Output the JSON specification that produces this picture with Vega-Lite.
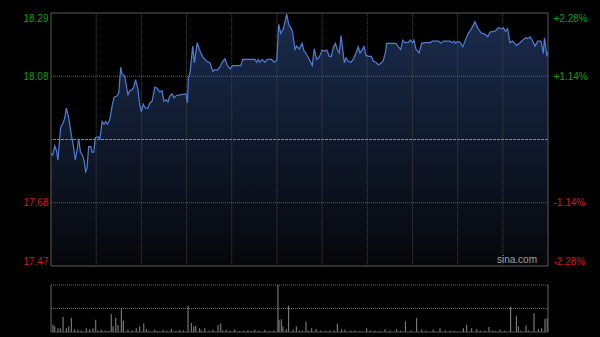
{
 "$schema": "https://vega.github.io/schema/vega-lite/v6.json",
 "width": 497,
 "height": 319,
 "autosize": {"type": "none"},
 "padding": {"left": 51, "top": 13, "right": 52, "bottom": 5},
 "background": "#000000",
 "config": {"view": {"stroke": null}},
 "datasets": {
  "price": [
   {"t":0,"p":17.835},{"t":1.1,"p":17.830},{"t":2.5,"p":17.860},{"t":3.8,"p":17.840},{"t":4.6,"p":17.814},{"t":6.4,"p":17.918},{"t":8.0,"p":17.933},{"t":9.1,"p":17.949},{"t":10.2,"p":17.981},{"t":11.8,"p":17.949},{"t":13.5,"p":17.895},{"t":14.8,"p":17.862},{"t":16.1,"p":17.814},{"t":17.5,"p":17.851},{"t":18.4,"p":17.882},{"t":19.5,"p":17.840},{"t":20.8,"p":17.830},{"t":21.9,"p":17.814},{"t":23.0,"p":17.776},{"t":23.9,"p":17.787},{"t":25.0,"p":17.857},{"t":26.4,"p":17.857},{"t":27.2,"p":17.839},{"t":28.4,"p":17.839},{"t":29.4,"p":17.886},{"t":31.2,"p":17.889},{"t":32.5,"p":17.882},{"t":33.9,"p":17.938},{"t":35.2,"p":17.929},{"t":36.3,"p":17.938},{"t":37.4,"p":17.929},{"t":39.0,"p":17.943},{"t":40.5,"p":17.986},{"t":41.8,"p":18.016},{"t":43.6,"p":18.019},{"t":45.0,"p":18.030},{"t":46.3,"p":18.113},{"t":47.1,"p":18.091},{"t":48.9,"p":18.084},{"t":50.3,"p":18.046},{"t":51.1,"p":18.024},{"t":52.3,"p":18.037},{"t":53.8,"p":18.040},{"t":55.1,"p":18.051},{"t":56.2,"p":18.073},{"t":57.8,"p":18.040},{"t":58.9,"p":17.992},{"t":60.0,"p":17.970},{"t":61.3,"p":17.994},{"t":62.6,"p":17.981},{"t":64.4,"p":17.981},{"t":65.5,"p":17.997},{"t":67.1,"p":18.003},{"t":68.9,"p":18.048},{"t":70.4,"p":18.046},{"t":72.2,"p":18.033},{"t":73.7,"p":18.037},{"t":75.0,"p":18.003},{"t":76.6,"p":18.008},{"t":77.7,"p":18.001},{"t":78.8,"p":18.019},{"t":80.3,"p":18.027},{"t":81.7,"p":18.014},{"t":83.2,"p":18.022},{"t":85.6,"p":18.024},{"t":89.6,"p":18.027},{"t":90.6,"p":17.998},{"t":91.2,"p":18.078},{"t":92.3,"p":18.095},{"t":94.1,"p":18.181},{"t":95.2,"p":18.127},{"t":97.1,"p":18.192},{"t":98.9,"p":18.165},{"t":101.1,"p":18.143},{"t":103.4,"p":18.132},{"t":105.6,"p":18.127},{"t":107.4,"p":18.100},{"t":108.9,"p":18.105},{"t":110.4,"p":18.103},{"t":112.2,"p":18.114},{"t":113.5,"p":18.127},{"t":115.5,"p":18.140},{"t":117.1,"p":18.118},{"t":118.9,"p":18.108},{"t":120.6,"p":18.118},{"t":123.3,"p":18.118},{"t":126.0,"p":18.118},{"t":127.3,"p":18.138},{"t":131.0,"p":18.138},{"t":135.5,"p":18.138},{"t":136.6,"p":18.129},{"t":137.6,"p":18.138},{"t":138.8,"p":18.129},{"t":140.1,"p":18.138},{"t":142.1,"p":18.129},{"t":143.6,"p":18.138},{"t":146.5,"p":18.138},{"t":148.1,"p":18.129},{"t":149.9,"p":18.135},{"t":151.2,"p":18.251},{"t":152.5,"p":18.222},{"t":154.2,"p":18.235},{"t":156.5,"p":18.284},{"t":157.8,"p":18.251},{"t":159.8,"p":18.235},{"t":160.5,"p":18.224},{"t":162.0,"p":18.170},{"t":163.1,"p":18.181},{"t":164.9,"p":18.172},{"t":166.7,"p":18.190},{"t":168.0,"p":18.165},{"t":169.8,"p":18.154},{"t":171.5,"p":18.138},{"t":173.5,"p":18.118},{"t":174.8,"p":18.172},{"t":176.4,"p":18.138},{"t":178.2,"p":18.146},{"t":179.9,"p":18.168},{"t":181.7,"p":18.165},{"t":183.1,"p":18.168},{"t":184.8,"p":18.148},{"t":186.1,"p":18.148},{"t":187.4,"p":18.176},{"t":188.8,"p":18.190},{"t":190.1,"p":18.170},{"t":191.4,"p":18.159},{"t":192.6,"p":18.215},{"t":193.7,"p":18.170},{"t":194.8,"p":18.127},{"t":195.9,"p":18.143},{"t":197.4,"p":18.132},{"t":199.2,"p":18.129},{"t":200.7,"p":18.138},{"t":202.5,"p":18.159},{"t":204.0,"p":18.179},{"t":205.2,"p":18.159},{"t":206.5,"p":18.168},{"t":207.8,"p":18.179},{"t":209.2,"p":18.151},{"t":211.0,"p":18.148},{"t":212.7,"p":18.148},{"t":214.0,"p":18.132},{"t":215.8,"p":18.129},{"t":217.3,"p":18.121},{"t":218.9,"p":18.125},{"t":220.6,"p":18.135},{"t":222.0,"p":18.159},{"t":222.9,"p":18.190},{"t":225.1,"p":18.190},{"t":229.1,"p":18.190},{"t":230.6,"p":18.179},{"t":232.2,"p":18.170},{"t":233.5,"p":18.200},{"t":235.1,"p":18.192},{"t":237.3,"p":18.194},{"t":238.8,"p":18.200},{"t":240.2,"p":18.192},{"t":241.0,"p":18.200},{"t":242.4,"p":18.170},{"t":244.4,"p":18.159},{"t":246.1,"p":18.190},{"t":248.3,"p":18.192},{"t":251.7,"p":18.192},{"t":253.2,"p":18.197},{"t":257.2,"p":18.197},{"t":259.0,"p":18.190},{"t":260.5,"p":18.197},{"t":264.9,"p":18.197},{"t":266.5,"p":18.192},{"t":267.8,"p":18.197},{"t":268.7,"p":18.190},{"t":270.1,"p":18.197},{"t":271.8,"p":18.192},{"t":273.4,"p":18.179},{"t":274.9,"p":18.197},{"t":276.7,"p":18.219},{"t":278.9,"p":18.235},{"t":281.5,"p":18.259},{"t":283.3,"p":18.240},{"t":285.5,"p":18.224},{"t":288.2,"p":18.219},{"t":290.0,"p":18.211},{"t":291.5,"p":18.226},{"t":294.8,"p":18.229},{"t":297.0,"p":18.240},{"t":298.8,"p":18.237},{"t":300.3,"p":18.240},{"t":301.9,"p":18.229},{"t":303.2,"p":18.237},{"t":304.8,"p":18.192},{"t":306.3,"p":18.197},{"t":309.2,"p":18.183},{"t":311.4,"p":18.192},{"t":313.6,"p":18.202},{"t":315.2,"p":18.208},{"t":316.5,"p":18.205},{"t":318.1,"p":18.211},{"t":319.6,"p":18.200},{"t":321.4,"p":18.181},{"t":323.2,"p":18.197},{"t":325.3,"p":18.197},{"t":326.2,"p":18.176},{"t":326.9,"p":18.157},{"t":327.6,"p":18.208},{"t":328.7,"p":18.170},{"t":329.3,"p":18.148},{"t":329.8,"p":18.161}
  ],
  "vol": [
   {"t":1.3,"v":15.5},{"t":2.5,"v":12},{"t":4.6,"v":8},{"t":6.2,"v":8},{"t":8.0,"v":32},{"t":10.2,"v":8},{"t":11.8,"v":12},{"t":13.5,"v":30},{"t":15.7,"v":6},{"t":17.9,"v":5},{"t":20,"v":3},{"t":23.4,"v":8},{"t":25.7,"v":6},{"t":27.9,"v":8},{"t":29.7,"v":26},{"t":31,"v":3},{"t":33.4,"v":5},{"t":36,"v":3},{"t":38,"v":2},{"t":40.0,"v":38},{"t":41.2,"v":12},{"t":43.0,"v":30},{"t":44.5,"v":15},{"t":46.7,"v":51},{"t":48.0,"v":24},{"t":51.1,"v":5},{"t":54,"v":3},{"t":56.6,"v":8},{"t":58.9,"v":12},{"t":61.6,"v":18},{"t":63.3,"v":6},{"t":65,"v":3},{"t":68.9,"v":5},{"t":71,"v":2},{"t":74.4,"v":5},{"t":77,"v":3},{"t":79.9,"v":6},{"t":83,"v":2},{"t":85.5,"v":4},{"t":88,"v":3},{"t":91.0,"v":56},{"t":93.2,"v":19},{"t":94.8,"v":12},{"t":96.1,"v":13},{"t":98.7,"v":8},{"t":100,"v":3},{"t":102.1,"v":8},{"t":105,"v":3},{"t":107.6,"v":5},{"t":110.9,"v":15},{"t":112.7,"v":18},{"t":114,"v":3},{"t":116.4,"v":5},{"t":119,"v":3},{"t":122.0,"v":6},{"t":125,"v":2},{"t":128,"v":3},{"t":130.8,"v":4},{"t":133,"v":2},{"t":135.3,"v":5},{"t":138,"v":3},{"t":141.9,"v":4},{"t":145,"v":2},{"t":148,"v":3},{"t":150.7,"v":100},{"t":151.4,"v":26},{"t":152.9,"v":27},{"t":154.0,"v":12},{"t":156.2,"v":6},{"t":157.8,"v":56},{"t":160.7,"v":5},{"t":162.9,"v":12},{"t":165,"v":3},{"t":167,"v":3},{"t":169.3,"v":22.5},{"t":171,"v":3},{"t":173.1,"v":8},{"t":176.0,"v":6},{"t":179,"v":3},{"t":182,"v":2},{"t":185,"v":3},{"t":188,"v":3},{"t":190.1,"v":17.6},{"t":193.0,"v":6},{"t":195.2,"v":5},{"t":199,"v":3},{"t":202,"v":3},{"t":205,"v":2},{"t":209.6,"v":8},{"t":212,"v":3},{"t":215,"v":3},{"t":218,"v":2},{"t":221.8,"v":6},{"t":225,"v":3},{"t":229.5,"v":6},{"t":232,"v":3},{"t":235.3,"v":22.5},{"t":239,"v":3},{"t":242.8,"v":29.6},{"t":246.1,"v":5},{"t":249,"v":3},{"t":253.8,"v":5},{"t":258.3,"v":8},{"t":262,"v":3},{"t":265,"v":3},{"t":268,"v":2},{"t":273.8,"v":8},{"t":276.0,"v":15.5},{"t":279.3,"v":8},{"t":282.7,"v":6},{"t":285,"v":3},{"t":288,"v":3},{"t":290.8,"v":10.6},{"t":293,"v":3},{"t":295,"v":2},{"t":298.1,"v":5},{"t":301,"v":3},{"t":305.2,"v":54},{"t":309.0,"v":34.5},{"t":310.3,"v":12},{"t":312,"v":3},{"t":315.4,"v":14},{"t":317,"v":3},{"t":320.7,"v":40},{"t":323.6,"v":6},{"t":325.8,"v":8},{"t":328.0,"v":28},{"t":329.5,"v":29.6}
  ],
  "vgrid": [{"t":30},{"t":60},{"t":90},{"t":120},{"t":150},{"t":180},{"t":210},{"t":240},{"t":270},{"t":300}],
  "hgrid": [{"p":17.6762},{"p":18.0838}],
  "vedge": [{"t":0},{"t":330}],
  "vlines": [{"v":50},{"v":100}],
  "mark": [{"s":"sina.com"}]
 },
 "layer": [
  {
   "data": {"name": "price"},
   "mark": {"type": "area", "color": {"gradient": "linear", "x1": 0, "y1": 0, "x2": 0, "y2": 1, "stops": [{"offset": 0, "color": "#1b2c4e"}, {"offset": 1, "color": "#05070a"}]}},
   "encoding": {
    "x": {"field": "t", "type": "quantitative", "scale": {"domain": [0, 330], "nice": false, "zero": false}, "axis": null},
    "y": {"field": "p", "type": "quantitative", "scale": {"domain": [17.4723, 18.2877], "range": [253, 0], "nice": false, "zero": false},
     "axis": {"orient": "left", "values": [17.4723, 17.6762, 18.0838, 18.2877], "format": ".2f", "labelFlush": true, "labelPadding": 3, "labelFont": "Liberation Sans", "labelFontSize": 10, "labelColor": {"condition": {"test": "datum.value > 17.88", "value": "#0e9e0e"}, "value": "#d41818"}, "domain": false, "ticks": false, "grid": false, "title": null}},
    "y2": {"datum": 17.4723}
   }
  },
  {
   "data": {"name": "vgrid"},
   "mark": {"type": "rule", "color": "#454545", "strokeDash": [1, 1]},
   "encoding": {
    "x": {"field": "t", "type": "quantitative", "scale": {"domain": [0, 330], "nice": false, "zero": false}, "axis": null},
    "y": {"datum": 17.4723, "scale": {"domain": [17.4723, 18.2877], "range": [253, 0], "nice": false, "zero": false}, "axis": null},
    "y2": {"datum": 18.2877}
   }
  },
  {
   "data": {"name": "hgrid"},
   "mark": {"type": "rule", "color": "#5e5e5e", "strokeDash": [1, 1]},
   "encoding": {
    "y": {"field": "p", "type": "quantitative", "scale": {"domain": [17.4723, 18.2877], "range": [253, 0], "nice": false, "zero": false}, "axis": null}
   }
  },
  {
   "data": {"values": [{"p": 17.88}]},
   "mark": {"type": "rule", "color": "#8a8a8a", "strokeDash": [3, 1]},
   "encoding": {
    "y": {"field": "p", "type": "quantitative", "scale": {"domain": [17.4723, 18.2877], "range": [253, 0], "nice": false, "zero": false}, "axis": null}
   }
  },
  {
   "data": {"name": "mark"},
   "mark": {"type": "text", "align": "right", "baseline": "bottom", "dy": -1, "color": "#a0a0a0", "font": "Liberation Sans", "fontSize": 10},
   "encoding": {
    "x": {"datum": 322.7, "scale": {"domain": [0, 330], "nice": false, "zero": false}, "axis": null},
    "y": {"datum": 17.4723, "scale": {"domain": [17.4723, 18.2877], "range": [253, 0], "nice": false, "zero": false}, "axis": null},
    "text": {"field": "s"}
   }
  },
  {
   "data": {"name": "price"},
   "mark": {"type": "line", "color": "#4c80d8", "strokeWidth": 1.2},
   "encoding": {
    "x": {"field": "t", "type": "quantitative", "scale": {"domain": [0, 330], "nice": false, "zero": false}, "axis": null},
    "y": {"field": "p", "type": "quantitative", "scale": {"domain": [17.4723, 18.2877], "range": [253, 0], "nice": false, "zero": false},
     "axis": {"orient": "right", "values": [17.4723, 17.6762, 18.0838, 18.2877], "labelExpr": "(datum.value > 17.88 ? '+' : '-') + format(abs(datum.value - 17.88) / 17.88 * 100, '.2f') + '%'", "labelFlush": true, "labelPadding": 5, "labelFont": "Liberation Sans", "labelFontSize": 10, "labelColor": {"condition": {"test": "datum.value > 17.88", "value": "#0e9e0e"}, "value": "#d41818"}, "domain": false, "ticks": false, "grid": false, "title": null}}
   }
  },
  {
   "data": {"values": [{"a": 0}]},
   "mark": {"type": "rect", "filled": false, "stroke": "#5a5a5a", "strokeWidth": 1},
   "encoding": {
    "x": {"datum": 0, "scale": {"domain": [0, 330], "nice": false, "zero": false}, "axis": null},
    "x2": {"datum": 330},
    "y": {"datum": 17.4723, "scale": {"domain": [17.4723, 18.2877], "range": [253, 0], "nice": false, "zero": false}, "axis": null},
    "y2": {"datum": 18.2877}
   }
  },
  {
   "data": {"name": "vlines"},
   "mark": {"type": "rule", "color": "#6a6a6a", "strokeDash": [1, 1]},
   "encoding": {
    "y": {"field": "v", "type": "quantitative", "scale": {"domain": [0, 100], "range": [319, 272], "nice": false, "zero": true}, "axis": null}
   }
  },
  {
   "data": {"name": "vol"},
   "mark": {"type": "rule", "color": "#8c8c8c", "strokeWidth": 1},
   "encoding": {
    "x": {"field": "t", "type": "quantitative", "scale": {"domain": [0, 330], "nice": false, "zero": false}, "axis": null},
    "y": {"field": "v", "type": "quantitative", "scale": {"domain": [0, 100], "range": [319, 272], "nice": false, "zero": true}, "axis": null},
    "y2": {"datum": 0}
   }
  },
  {
   "data": {"name": "vedge"},
   "mark": {"type": "rule", "color": "#666666"},
   "encoding": {
    "x": {"field": "t", "type": "quantitative", "scale": {"domain": [0, 330], "nice": false, "zero": false}, "axis": null},
    "y": {"datum": 0, "scale": {"domain": [0, 100], "range": [319, 272], "nice": false, "zero": true}, "axis": null},
    "y2": {"datum": 100}
   }
  },
  {
   "data": {"values": [{"v": 0}]},
   "mark": {"type": "rule", "color": "#555555"},
   "encoding": {
    "y": {"field": "v", "type": "quantitative", "scale": {"domain": [0, 100], "range": [319, 272], "nice": false, "zero": true}, "axis": null}
   }
  }
 ],
 "resolve": {"scale": {"y": "independent"}, "axis": {"y": "independent"}}
}
